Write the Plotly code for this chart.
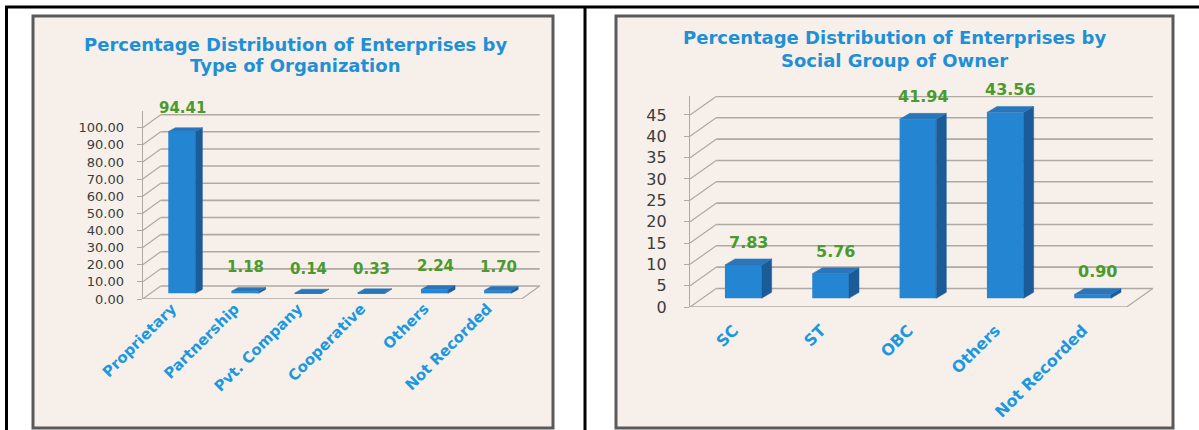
import plotly.graph_objects as go

W, H = 1199, 430

# ---- data -------------------------------------------------------------
org_categories = ["Proprietary", "Partnership", "Pvt. Company", "Cooperative", "Others", "Not Recorded"]
org_values = [94.41, 1.18, 0.14, 0.33, 2.24, 1.70]
org_ticks = [0, 10, 20, 30, 40, 50, 60, 70, 80, 90, 100]

social_categories = ["SC", "ST", "OBC", "Others", "Not Recorded"]
social_values = [7.83, 5.76, 41.94, 43.56, 0.90]
social_ticks = [0, 5, 10, 15, 20, 25, 30, 35, 40, 45]

# ---- styling ----------------------------------------------------------
FONT = "DejaVu Sans"
TITLE_BLUE = "#1f8fd6"
LABEL_BLUE = "#1c98e0"
VALUE_GREEN = "#4a9a2c"
TICK_GREY = "#3c3c3c"
GRID = "#b0a9a3"
PANEL_BG = "#f7f0ea"
FRONT = "#2485d2"
SIDE = "#1a5b98"
TOP = "#2a76ba"


def px_x(p):
    return p / W


def px_y(p):
    return 1 - p / H


panels = [
    dict(
        cats=org_categories, vals=org_values, ticks=org_ticks, fmt=".2f",
        xa="x", ya="y",
        xdom=[px_x(142.7), px_x(541.9)], ydom=[px_y(299), px_y(111)],
        xrange=[-0.5, 5.82], yrange=[0, 109.75],
        dxf=0.285, dyf=7.6,            # floor / wall depth
        w=0.43, bx=0.12, b0=3.3,        # bar width, depth shift, base
        dxb=0.11, dyb=2.3,              # bar depth
        lx=0.13, lshift=9, cat_dx=-0.04,
        tick_font=13, cat_font=15, val_font=15,
        ticklen_y=5, y_standoff=10, x_standoff=-3, tick_down=3.0,
        title=["Percentage Distribution of Enterprises by", "Type of Organization"],
        title_x=295, title_y=[45, 65], title_size=18,
    ),
    dict(
        cats=social_categories, vals=social_values, ticks=social_ticks, fmt="d",
        xa="x2", ya="y2",
        xdom=[px_x(690), px_x(1154.6)], ydom=[px_y(307), px_y(96)],
        xrange=[-0.5, 4.82], yrange=[0, 49.45],
        dxf=0.3, dyf=4.34,
        w=0.42, bx=0.11, b0=2.04,
        dxb=0.115, dyb=1.4,
        lx=0.17, lshift=5, cat_dx=0.0,
        tick_font=16, cat_font=16, val_font=16,
        ticklen_y=5, y_standoff=14, x_standoff=10, tick_down=1.2,
        title=["Percentage Distribution of Enterprises by", "Social Group of Owner"],
        title_x=894, title_y=[38, 60], title_size=18,
    ),
]

fig = go.Figure()
shapes = []
annotations = []

# table frame lines
shapes += [
    dict(type="line", xref="paper", yref="paper", x0=px_x(5), x1=1, y0=px_y(7), y1=px_y(7),
         line=dict(color="black", width=3)),
    dict(type="line", xref="paper", yref="paper", x0=px_x(6.5), x1=px_x(6.5), y0=0, y1=px_y(6),
         line=dict(color="black", width=3)),
    dict(type="line", xref="paper", yref="paper", x0=px_x(585), x1=px_x(585), y0=0, y1=px_y(6),
         line=dict(color="black", width=3)),
]

# chart panels
for x0, x1 in [(33, 553), (616, 1173)]:
    shapes.append(dict(type="rect", xref="paper", yref="paper", layer="below",
                       x0=px_x(x0), x1=px_x(x1), y0=px_y(428), y1=px_y(16),
                       fillcolor=PANEL_BG, line=dict(color="#5a5a5a", width=3)))

layout_axes = {}
for n, p in enumerate(panels):
    xa, ya = p["xa"], p["ya"]
    xkey = "xaxis" if xa == "x" else "xaxis2"
    ykey = "yaxis" if ya == "y" else "yaxis2"
    ncat = len(p["cats"])
    xend = ncat - 0.5
    dxf, dyf = p["dxf"], p["dyf"]

    # back-wall gridlines and the slanted side-wall lines
    for v in p["ticks"]:
        shapes.append(dict(type="line", xref=xa, yref=ya, layer="below",
                           x0=-0.5 + dxf, x1=xend + dxf, y0=v + dyf, y1=v + dyf,
                           line=dict(color=GRID, width=1.6)))
        shapes.append(dict(type="line", xref=xa, yref=ya, layer="below",
                           x0=-0.5, x1=-0.5 + dxf, y0=v, y1=v + dyf,
                           line=dict(color=GRID, width=1.2)))
    # floor front edge and right edge
    shapes.append(dict(type="line", xref=xa, yref=ya, layer="below",
                       x0=-0.5, x1=xend, y0=0, y1=0, line=dict(color=GRID, width=1.6)))
    shapes.append(dict(type="line", xref=xa, yref=ya, layer="below",
                       x0=xend, x1=xend + dxf, y0=0, y1=dyf, line=dict(color=GRID, width=1.2)))
    # category boundary ticks on the floor edge
    for k in range(ncat + 1):
        shapes.append(dict(type="line", xref=xa, yref=ya, layer="below",
                           x0=-0.5 + k, x1=-0.5 + k, y0=0, y1=-p["tick_down"],
                           line=dict(color=GRID, width=1.2)))

    xs = [i + p["bx"] for i in range(ncat)]
    w, b0, dxb, dyb = p["w"], p["b0"], p["dxb"], p["dyb"]

    # side and top faces of each bar
    for xc, v in zip(xs, p["vals"]):
        xl, xr = xc - w / 2, xc + w / 2
        yt = b0 + v
        fig.add_trace(go.Scatter(
            x=[xr, xr + dxb, xr + dxb, xr, xr], y=[b0, b0 + dyb, yt + dyb, yt, b0],
            xaxis=xa, yaxis=ya, mode="lines", fill="toself", fillcolor=SIDE,
            line=dict(width=0.5, color=SIDE), hoverinfo="skip", showlegend=False))
        fig.add_trace(go.Scatter(
            x=[xl, xr, xr + dxb, xl + dxb, xl], y=[yt, yt, yt + dyb, yt + dyb, yt],
            xaxis=xa, yaxis=ya, mode="lines", fill="toself", fillcolor=TOP,
            line=dict(width=0.5, color=TOP), hoverinfo="skip", showlegend=False))

    # front faces
    fig.add_trace(go.Bar(
        x=xs, y=p["vals"], base=b0, width=w, xaxis=xa, yaxis=ya,
        marker=dict(color=FRONT, line=dict(width=0)), showlegend=False,
        hovertemplate="%{customdata}: %{y:.2f}<extra></extra>", customdata=p["cats"]))

    # value labels
    for i, v in enumerate(p["vals"]):
        annotations.append(dict(
            x=i + p["lx"], y=b0 + v + dyb, xref=xa, yref=ya, yanchor="bottom",
            yshift=p["lshift"], showarrow=False,
            text="<b>%.2f</b>" % v,
            font=dict(family=FONT, size=p["val_font"], color=VALUE_GREEN)))

    # titles
    for line, yp in zip(p["title"], p["title_y"]):
        annotations.append(dict(
            x=px_x(p["title_x"]), y=px_y(yp), xref="paper", yref="paper",
            xanchor="center", yanchor="middle", showarrow=False,
            text="<b>%s</b>" % line,
            font=dict(family=FONT, size=p["title_size"], color=TITLE_BLUE)))

    layout_axes[xkey] = dict(
        domain=p["xdom"], range=p["xrange"], anchor=ya, automargin=False,
        tickmode="array", tickvals=[i + p["cat_dx"] for i in range(ncat)],
        ticktext=p["cats"], tickangle=-45,
        ticks="", showgrid=False, zeroline=False, showline=False,
        ticklabelstandoff=p["x_standoff"],
        tickfont=dict(family=FONT, size=p["cat_font"], color=LABEL_BLUE, weight="bold"),
    )
    layout_axes[ykey] = dict(
        domain=p["ydom"], range=p["yrange"], anchor=xa, automargin=False,
        tickmode="array", tickvals=p["ticks"], tickformat=p["fmt"],
        ticks="outside", ticklen=p["ticklen_y"], tickcolor=GRID,
        showline=True, linecolor=GRID, linewidth=1.2,
        showgrid=False, zeroline=False,
        ticklabelstandoff=p["y_standoff"],
        tickfont=dict(family=FONT, size=p["tick_font"], color=TICK_GREY),
    )

fig.update_layout(
    width=W, height=H,
    autosize=False,
    margin=dict(l=0, r=0, t=0, b=0, pad=0, autoexpand=False),
    paper_bgcolor="white",
    plot_bgcolor="rgba(0,0,0,0)",
    barmode="overlay",
    shapes=shapes,
    annotations=annotations,
    showlegend=False,
    **layout_axes,
)

fig.write_html("out.html")
